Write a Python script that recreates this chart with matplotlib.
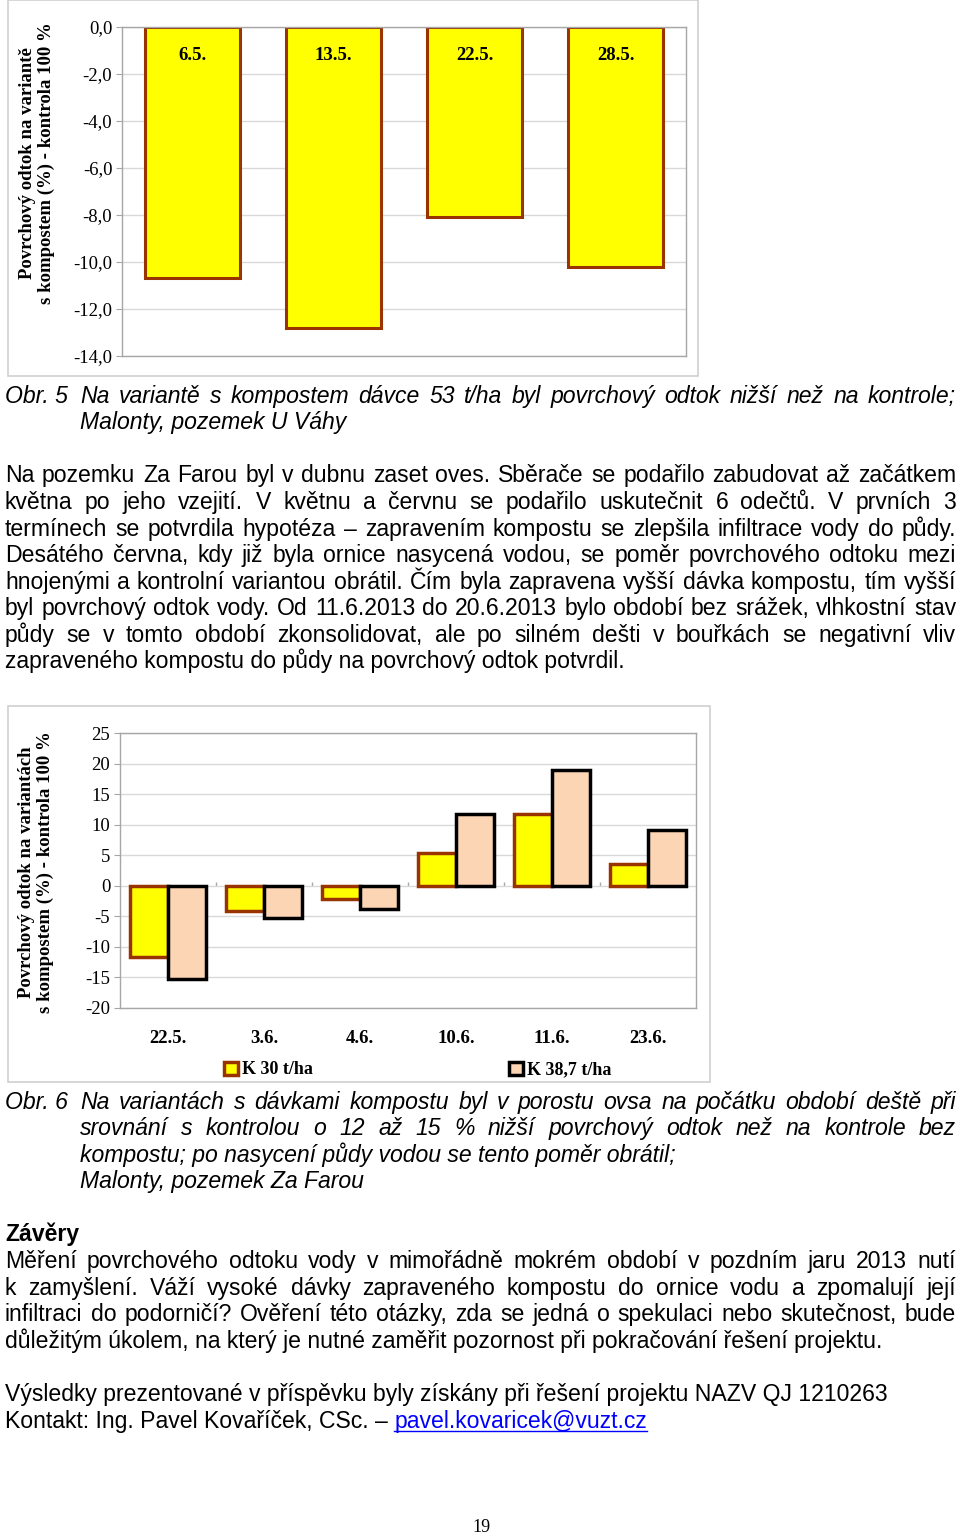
import numpy as np
import matplotlib
matplotlib.use("Agg")
import matplotlib.pyplot as plt
from matplotlib.patches import Rectangle
from matplotlib.lines import Line2D

plt.rcParams['axes.unicode_minus'] = False

# data
dates1 = ['6.5.', '13.5.', '22.5.', '28.5.']
odtok_53 = [-10.7, -12.8, -8.1, -10.2]
yticks1 = np.arange(-14, 0.1, 2)

dates2 = ['22.5.', '3.6.', '4.6.', '10.6.', '11.6.', '23.6.']
k30 = [-11.6, -4.2, -2.1, 5.4, 11.8, 3.5]
k387 = [-15.2, -5.3, -3.8, 11.8, 19.0, 9.1]
yticks2 = np.arange(-20, 26, 5)
legend2 = ['K 30 t/ha', 'K 38,7 t/ha']

W, H = 960, 1537
fig = plt.figure(figsize=(W / 100, H / 100), dpi=100)
fig.patch.set_facecolor('white')
SERIF = 'Liberation Serif'
SANS = 'Liberation Sans'
GRID = '#d9d9d9'
SPINE = '#a6a6a6'


def fx(x):
    return x / W


def fy(y):
    return 1 - y / H


def frame(x0, y0, x1, y1):
    fig.patches.append(Rectangle((fx(x0), fy(y1)), fx(x1 - x0), (y1 - y0) / H,
                                 transform=fig.transFigure, fill=False,
                                 edgecolor='#d0d0d0', lw=1.2))


def style_ax(ax, n):
    for s in ax.spines.values():
        s.set_color(SPINE)
        s.set_linewidth(1)
    ax.yaxis.grid(True, color=GRID, lw=1)
    ax.set_axisbelow(True)
    ax.tick_params(axis='y', length=4, color=SPINE, labelsize=13.5, pad=3)
    for t in ax.get_yticklabels():
        t.set_family(SERIF)
    # small category separators on the zero line
    ax.vlines(np.arange(n - 1) + 0.5, 0, 0.012, transform=ax.get_xaxis_transform(),
              color=SPINE, lw=1, zorder=0)


# ---------- Obr. 5 ----------
frame(8, 0, 698, 376)
ax1 = fig.add_axes([fx(122), fy(356), fx(564), 329 / H])
x1 = np.arange(len(dates1))
ax1.bar(x1, odtok_53, width=0.67, color='#ffff00', edgecolor='#993300', linewidth=2.2)
ax1.set_xlim(-0.5, len(dates1) - 0.5)
ax1.set_ylim(-14, 0)
ax1.set_yticks(yticks1)
ax1.set_yticklabels([('%.1f' % v).replace('.', ',') for v in yticks1])
ax1.set_xticks([])
style_ax(ax1, 0)
for i, d in enumerate(dates1):
    ax1.text(i, -1.2, d, ha='center', va='center', family=SERIF,
             fontweight='bold', fontsize=13.5)
fig.text(fx(37), fy(163), 'Povrchový odtok na variantě\ns kompostem (%) - kontrola 100 %',
         rotation=90, ha='center', va='center', multialignment='center',
         family=SERIF, fontweight='bold', fontsize=13.5, linespacing=1.1)

# ---------- Obr. 6 ----------
frame(8, 706, 710, 1082)
ax2 = fig.add_axes([fx(120), fy(1008), fx(576), 275 / H])
x2 = np.arange(len(dates2))
b1 = ax2.bar(x2 - 0.2, k30, width=0.4, color='#ffff00', edgecolor='#993300', linewidth=2.5)
b2 = ax2.bar(x2 + 0.2, k387, width=0.4, color='#fcd5b5', edgecolor='black', linewidth=2.5)
ax2.set_xlim(-0.5, len(dates2) - 0.5)
ax2.set_ylim(-20, 25)
ax2.set_yticks(yticks2)
ax2.set_xticks(x2)
ax2.set_xticklabels(dates2, family=SERIF, fontweight='bold', fontsize=13.5)
ax2.tick_params(axis='x', length=0, pad=16)
style_ax(ax2, 0)
ax2.vlines(x2[:-1] + 0.5, 0, 0.6, color=SPINE, lw=1, zorder=0)
fig.text(fx(36), fy(872), 'Povrchový odtok na variantách\ns kompostem (%) - kontrola 100 %',
         rotation=90, ha='center', va='center', multialignment='center',
         family=SERIF, fontweight='bold', fontsize=13.5, linespacing=1.1)
for h, lab, xl in zip([b1, b2], legend2, [224, 509]):
    fig.legend([h], [lab], loc='center left', bbox_to_anchor=(fx(xl), fy(1070)),
               frameon=False, borderpad=0, borderaxespad=0, handlelength=0.75,
               handleheight=0.75, handletextpad=0.25,
               prop={'family': SERIF, 'weight': 'bold', 'size': 13})

# ---------- text ----------
renderer = fig.canvas.get_renderer()


def text_w(s, **kw):
    t = fig.text(0, 0, s, **kw)
    w = t.get_window_extent(renderer).width
    t.remove()
    return w


base = dict(family=SANS, fontsize=10)
FS = 10 * 622 / text_w('zapraveného kompostu do půdy na povrchový odtok potvrdil.', **base)


def line(s, x0, yc, x1=None, **kw):
    kw = dict(dict(family=SANS, fontsize=FS), **kw)
    yb = fy(yc + 7)
    words = s.split()
    if x1 is None or len(words) < 2:
        fig.text(fx(x0), yb, s, va='baseline', **kw)
        return
    ws = [text_w(w, **kw) for w in words]
    gap = (x1 - x0 - sum(ws)) / (len(words) - 1)
    x = x0
    for w, wd in zip(words, ws):
        fig.text(fx(x), yb, w, va='baseline', **kw)
        x += wd + gap


R = 956
# caption 5
line('Obr. 5', 5, 396, style='italic')
line('Na variantě s kompostem dávce 53 t/ha byl povrchový odtok nižší než na kontrole;', 80, 396, R, style='italic')
line('Malonty, pozemek U Váhy', 80, 422, style='italic')

para1 = [
    'Na pozemku Za Farou byl v dubnu zaset oves. Sběrače se podařilo zabudovat až začátkem',
    'května po jeho vzejití. V  květnu a červnu se podařilo uskutečnit 6 odečtů. V prvních 3',
    'termínech se potvrdila hypotéza – zapravením kompostu se zlepšila infiltrace vody do půdy.',
    'Desátého června, kdy již byla ornice nasycená vodou, se poměr povrchového odtoku mezi',
    'hnojenými a kontrolní variantou obrátil. Čím byla zapravena vyšší dávka kompostu, tím vyšší',
    'byl povrchový odtok vody. Od 11.6.2013 do 20.6.2013 bylo období bez srážek, vlhkostní stav',
    'půdy se v tomto období zkonsolidovat, ale po silném dešti v bouřkách se negativní vliv',
]
ys1 = [475, 502, 529, 555, 582, 608, 635]
for s, y in zip(para1, ys1):
    line(s, 5, y, R)
line('zapraveného kompostu do půdy na povrchový odtok potvrdil.', 5, 661)

# caption 6
line('Obr. 6', 5, 1102, style='italic')
line('Na variantách s dávkami kompostu byl v porostu ovsa na počátku období deště při', 80, 1102, R, style='italic')
line('srovnání s kontrolou o 12 až 15 % nižší povrchový odtok než na kontrole bez', 80, 1128, R, style='italic')
line('kompostu; po nasycení půdy vodou se tento poměr obrátil;', 80, 1155, style='italic')
line('Malonty, pozemek Za Farou', 80, 1181, style='italic')

line('Závěry', 5, 1234, fontweight='bold')
para2 = [
    'Měření povrchového odtoku vody v mimořádně mokrém období v pozdním jaru 2013 nutí',
    'k zamyšlení. Váží vysoké dávky zapraveného kompostu do ornice vodu a zpomalují její',
    'infiltraci do podorničí? Ověření této otázky, zda se jedná o spekulaci nebo skutečnost, bude',
]
for s, y in zip(para2, [1261, 1288, 1314]):
    line(s, 5, y, R)
line('důležitým úkolem, na který je nutné zaměřit pozornost při pokračování řešení projektu.', 5, 1341)

line('Výsledky prezentované v příspěvku byly získány při řešení projektu NAZV QJ 1210263', 5, 1394)
kontakt = 'Kontakt: Ing. Pavel Kovaříček, CSc. – '
line(kontakt, 5, 1421)
xm = 5 + text_w(kontakt, family=SANS, fontsize=FS)
mail = 'pavel.kovaricek@vuzt.cz'
line(mail, xm, 1421, color='#0000ff')
mw = text_w(mail, family=SANS, fontsize=FS)
fig.lines.append(Line2D([fx(xm), fx(xm + mw)], [fy(1431), fy(1431)],
                        transform=fig.transFigure, color='#0000ff', lw=1))

fig.text(fx(481), fy(1528), '19', ha='center', va='center', family=SERIF, fontsize=13)

fig.savefig('out.png', dpi=100)
